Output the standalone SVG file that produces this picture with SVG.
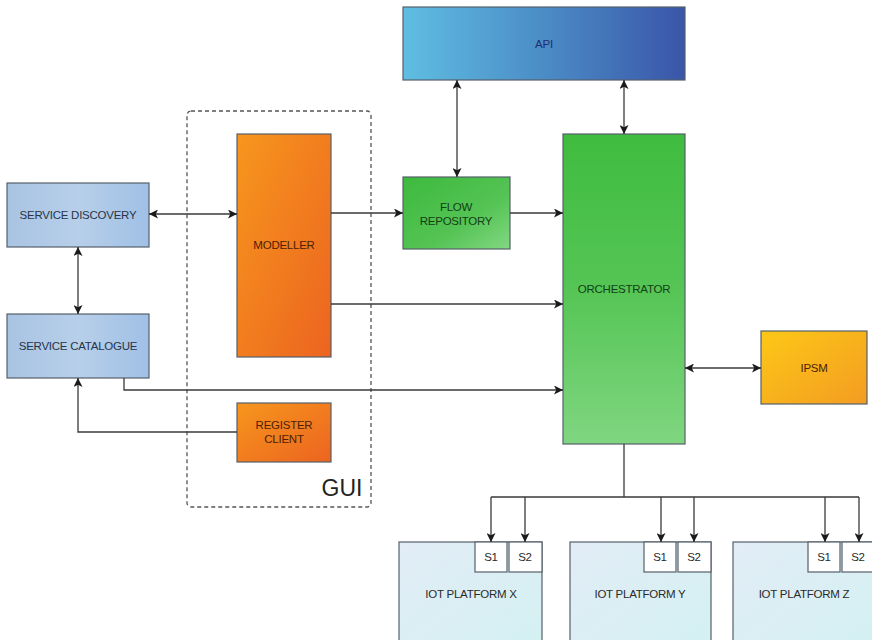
<svg xmlns="http://www.w3.org/2000/svg" width="872" height="640" viewBox="0 0 872 640">
  <style>
    text { font-family: "Liberation Sans", Arial, sans-serif; font-size: 11.5px; text-anchor: middle; dominant-baseline: central; letter-spacing: -0.25px; }
    .box { stroke: #55606a; stroke-width: 1.2; }
    .blue-txt { fill: #27344a; }
    .orange-txt { fill: #4e2004; }
    .green-txt { fill: #123f15; }
    .api-txt { fill: #1e2f70; }
    .dark-txt { fill: #2a2a2a; }
    .wire { fill: none; stroke: #3a3a3a; stroke-width: 1.3; }
    .gui { fill: none; stroke: #555; stroke-width: 1.3; stroke-dasharray: 4 3; }
  </style>
  <defs>
    <marker id="arrow" viewBox="0 0 10 10" refX="10" refY="5" markerWidth="9" markerHeight="9" markerUnits="userSpaceOnUse" orient="auto-start-reverse">
      <path d="M0,0 L10,5 L0,10 L2.5,5 Z" fill="#1a1a1a"/>
    </marker>
    <linearGradient id="gBlue" x1="0" y1="0" x2="1" y2="0">
      <stop offset="0" stop-color="#a9c3e3"/>
      <stop offset="0.5" stop-color="#b7cfe9"/>
      <stop offset="1" stop-color="#a0c0e6"/>
    </linearGradient>
    <linearGradient id="gOrange" x1="0" y1="0" x2="1" y2="1">
      <stop offset="0" stop-color="#f7961d"/>
      <stop offset="1" stop-color="#ec6420"/>
    </linearGradient>
    <linearGradient id="gApi" x1="0" y1="0" x2="1" y2="0">
      <stop offset="0" stop-color="#5fbee2"/>
      <stop offset="0.5" stop-color="#4b8cc6"/>
      <stop offset="1" stop-color="#3a55a8"/>
    </linearGradient>
    <linearGradient id="gGreenBox" x1="0" y1="0" x2="1" y2="1">
      <stop offset="0" stop-color="#3dba3d"/>
      <stop offset="0.6" stop-color="#54c354"/>
      <stop offset="1" stop-color="#82d882"/>
    </linearGradient>
    <linearGradient id="gOrch" x1="0" y1="0" x2="0" y2="1">
      <stop offset="0" stop-color="#3fbc3f"/>
      <stop offset="0.5" stop-color="#55c555"/>
      <stop offset="1" stop-color="#80d680"/>
    </linearGradient>
    <linearGradient id="gIpsm" x1="0" y1="0" x2="1" y2="1">
      <stop offset="0" stop-color="#fdc817"/>
      <stop offset="1" stop-color="#f39c22"/>
    </linearGradient>
    <linearGradient id="gPlat" x1="0" y1="0" x2="1" y2="1">
      <stop offset="0" stop-color="#e2ecf6"/>
      <stop offset="1" stop-color="#d3f1f2"/>
    </linearGradient>
  </defs>

  <!-- GUI grouping frame -->
  <g id="gui">
    <rect class="gui" x="187" y="111" width="184" height="396" rx="4"/>
    <text x="342" y="488" style="font-size:23px; letter-spacing:0" fill="#222">GUI</text>
  </g>

  <g id="service-discovery">
    <rect class="box" x="7" y="183" width="142" height="64" fill="url(#gBlue)"/>
    <text class="blue-txt" x="78" y="215">SERVICE DISCOVERY</text>
  </g>

  <g id="service-catalogue">
    <rect class="box" x="7" y="314" width="142" height="64" fill="url(#gBlue)"/>
    <text class="blue-txt" x="78" y="346">SERVICE CATALOGUE</text>
  </g>

  <g id="modeller">
    <rect class="box" x="237" y="134" width="94" height="223" fill="url(#gOrange)"/>
    <text class="orange-txt" x="284" y="245">MODELLER</text>
  </g>

  <g id="register-client">
    <rect class="box" x="237" y="403" width="94" height="59" fill="url(#gOrange)"/>
    <text class="orange-txt" x="284" y="425">REGISTER</text>
    <text class="orange-txt" x="284" y="439">CLIENT</text>
  </g>

  <g id="api">
    <rect class="box" x="403" y="7" width="282" height="73" fill="url(#gApi)"/>
    <text class="api-txt" x="544" y="44">API</text>
  </g>

  <g id="flow-repository">
    <rect class="box" x="403" y="177" width="107" height="72" fill="url(#gGreenBox)"/>
    <text class="green-txt" x="456" y="207">FLOW</text>
    <text class="green-txt" x="456" y="221">REPOSITORY</text>
  </g>

  <g id="orchestrator">
    <rect class="box" x="563" y="134" width="122" height="310" fill="url(#gOrch)"/>
    <text class="green-txt" x="624" y="289">ORCHESTRATOR</text>
  </g>

  <g id="ipsm">
    <rect class="box" x="761" y="331" width="106" height="73" fill="url(#gIpsm)"/>
    <text class="orange-txt" x="814" y="368">IPSM</text>
  </g>

  <g id="iot-platform-x">
    <rect class="box" x="399" y="542" width="143" height="110" fill="url(#gPlat)"/>
    <rect class="box" x="475" y="542" width="32" height="30" fill="#fff"/>
    <rect class="box" x="509" y="542" width="33" height="30" fill="#fff"/>
    <text class="dark-txt" x="491" y="557">S1</text>
    <text class="dark-txt" x="525" y="557">S2</text>
    <text class="dark-txt" x="471" y="594">IOT PLATFORM X</text>
  </g>

  <g id="iot-platform-y">
    <rect class="box" x="570" y="542" width="141" height="110" fill="url(#gPlat)"/>
    <rect class="box" x="644" y="542" width="32" height="30" fill="#fff"/>
    <rect class="box" x="678" y="542" width="33" height="30" fill="#fff"/>
    <text class="dark-txt" x="660" y="557">S1</text>
    <text class="dark-txt" x="694" y="557">S2</text>
    <text class="dark-txt" x="640" y="594">IOT PLATFORM Y</text>
  </g>

  <g id="iot-platform-z">
    <rect class="box" x="733" y="542" width="145" height="110" fill="url(#gPlat)"/>
    <rect class="box" x="808" y="542" width="32" height="30" fill="#fff"/>
    <rect class="box" x="842" y="542" width="33" height="30" fill="#fff"/>
    <text class="dark-txt" x="824" y="557">S1</text>
    <text class="dark-txt" x="858" y="557">S2</text>
    <text class="dark-txt" x="804" y="594">IOT PLATFORM Z</text>
  </g>

  <g id="connectors">
    <path class="wire" d="M149,214 H237" marker-start="url(#arrow)" marker-end="url(#arrow)"/>
    <path class="wire" d="M78,247 V314" marker-start="url(#arrow)" marker-end="url(#arrow)"/>
    <path class="wire" d="M331,213 H403" marker-end="url(#arrow)"/>
    <path class="wire" d="M457,80 V177" marker-start="url(#arrow)" marker-end="url(#arrow)"/>
    <path class="wire" d="M624,80 V134" marker-start="url(#arrow)" marker-end="url(#arrow)"/>
    <path class="wire" d="M510,213 H563" marker-end="url(#arrow)"/>
    <path class="wire" d="M331,304 H563" marker-end="url(#arrow)"/>
    <path class="wire" d="M124,378 V390 H563" marker-end="url(#arrow)"/>
    <path class="wire" d="M237,432 H78 V378" marker-end="url(#arrow)"/>
    <path class="wire" d="M685,368 H761" marker-start="url(#arrow)" marker-end="url(#arrow)"/>
    <path class="wire" d="M624,444 V497 M491,497 H859"/>
    <path class="wire" d="M491,497 V542" marker-end="url(#arrow)"/>
    <path class="wire" d="M525,497 V542" marker-end="url(#arrow)"/>
    <path class="wire" d="M661,497 V542" marker-end="url(#arrow)"/>
    <path class="wire" d="M694,497 V542" marker-end="url(#arrow)"/>
    <path class="wire" d="M825,497 V542" marker-end="url(#arrow)"/>
    <path class="wire" d="M859,497 V542" marker-end="url(#arrow)"/>
  </g>
</svg>
